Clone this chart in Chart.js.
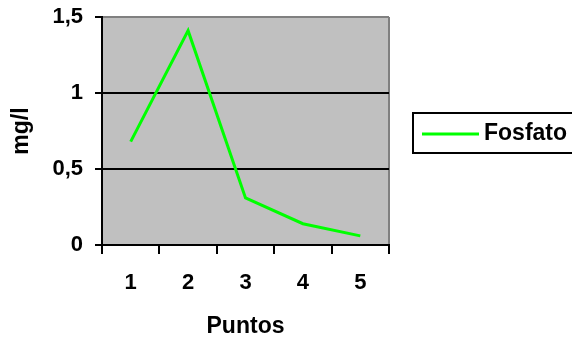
<!DOCTYPE html>
<html>
<head>
<meta charset="utf-8">
<script src="https://cdn.jsdelivr.net/npm/chart.js@4/dist/chart.umd.min.js"></script>
<style>
  html, body { margin: 0; padding: 0; background: #ffffff; }
  canvas { display: block; }
</style>
</head>
<body>
<canvas id="grafico" width="572" height="340"></canvas>
<script>
// Datos: concentración de fosfato en cada punto de muestreo
const puntos = ['1', '2', '3', '4', '5'];
const fosfato = [0.68, 1.41, 0.31, 0.14, 0.06];
const marcasY = [0, 0.5, 1, 1.5];
const nombreSerie = 'Fosfato';
const tituloX = 'Puntos';
const tituloY = 'mg/l';

const FUENTE = "'Liberation Sans', Arial, Helvetica, sans-serif";
Chart.defaults.font.family = FUENTE;
Chart.defaults.color = '#000000';

// Fondo gris del área de trazado y borde derecho
const fondoArea = {
  id: 'fondoArea',
  beforeDraw(chart) {
    const { ctx, chartArea: a } = chart;
    ctx.save();
    ctx.fillStyle = '#c0c0c0';
    ctx.fillRect(a.left, a.top, a.right - a.left, a.bottom - a.top);
    ctx.strokeStyle = '#808080';
    ctx.lineWidth = 2;
    ctx.beginPath();
    ctx.moveTo(a.right, a.top);
    ctx.lineTo(a.right, a.bottom);
    ctx.stroke();
    ctx.restore();
  }
};

// Leyenda enmarcada a la derecha del gráfico
const leyendaMarco = {
  id: 'leyendaMarco',
  afterDraw(chart) {
    const { ctx, chartArea: a } = chart;
    const ds = chart.data.datasets[0];
    const x0 = a.right + 24;
    const yc = 133;
    ctx.save();
    ctx.strokeStyle = '#000000';
    ctx.lineWidth = 2;
    ctx.strokeRect(x0, yc - 20, 200, 40);
    ctx.strokeStyle = ds.borderColor;
    ctx.lineWidth = ds.borderWidth;
    ctx.beginPath();
    ctx.moveTo(x0 + 9, yc + 1);
    ctx.lineTo(x0 + 66, yc + 1);
    ctx.stroke();
    ctx.fillStyle = '#000000';
    ctx.font = 'bold 23px ' + FUENTE;
    ctx.textBaseline = 'middle';
    ctx.textAlign = 'left';
    ctx.fillText(ds.label, x0 + 71, yc + 1);
    ctx.restore();
  }
};

new Chart(document.getElementById('grafico'), {
  type: 'line',
  data: {
    labels: puntos,
    datasets: [{
      label: nombreSerie,
      data: fosfato,
      borderColor: '#00ff00',
      borderWidth: 3,
      pointRadius: 0,
      tension: 0,
      fill: false
    }]
  },
  options: {
    responsive: false,
    animation: false,
    devicePixelRatio: 1,
    layout: { padding: { top: 17, right: 183, left: 0, bottom: 0 } },
    plugins: {
      legend: { display: false },
      tooltip: { enabled: false }
    },
    scales: {
      x: {
        type: 'category',
        offset: true,
        afterFit(s) { s.height = 95; s.paddingLeft = 0; s.paddingRight = 0; },
        grid: {
          offset: true,
          drawOnChartArea: false,
          drawTicks: true,
          tickLength: 9,
          tickColor: '#000000',
          tickWidth: 2,
          lineWidth: 2
        },
        border: { display: true, color: '#000000', width: 2 },
        ticks: {
          font: { size: 22, weight: 'bold' },
          padding: 16,
          maxRotation: 0
        },
        title: {
          display: true,
          text: tituloX,
          font: { size: 23, weight: 'bold' },
          padding: { top: 0, bottom: 0 }
        }
      },
      y: {
        min: 0,
        max: 1.5,
        afterFit(s) { s.width = 102; s.paddingTop = 0; s.paddingBottom = 0; },
        afterBuildTicks(s) { s.ticks = marcasY.map(v => ({ value: v })); },
        grid: {
          color: ctx => (ctx.tick && ctx.tick.value === 1.5) ? '#808080' : '#000000',
          lineWidth: 2,
          tickLength: 7,
          tickColor: '#000000',
          tickWidth: 2
        },
        border: { display: true, color: '#000000', width: 2 },
        ticks: {
          font: { size: 22, weight: 'bold' },
          padding: 12,
          callback: v => String(v).replace('.', ',')
        },
        title: {
          display: true,
          text: tituloY,
          font: { size: 23, weight: 'bold' },
          padding: { top: 8, bottom: 0 }
        }
      }
    }
  },
  plugins: [fondoArea, leyendaMarco]
});
</script>
</body>
</html>
